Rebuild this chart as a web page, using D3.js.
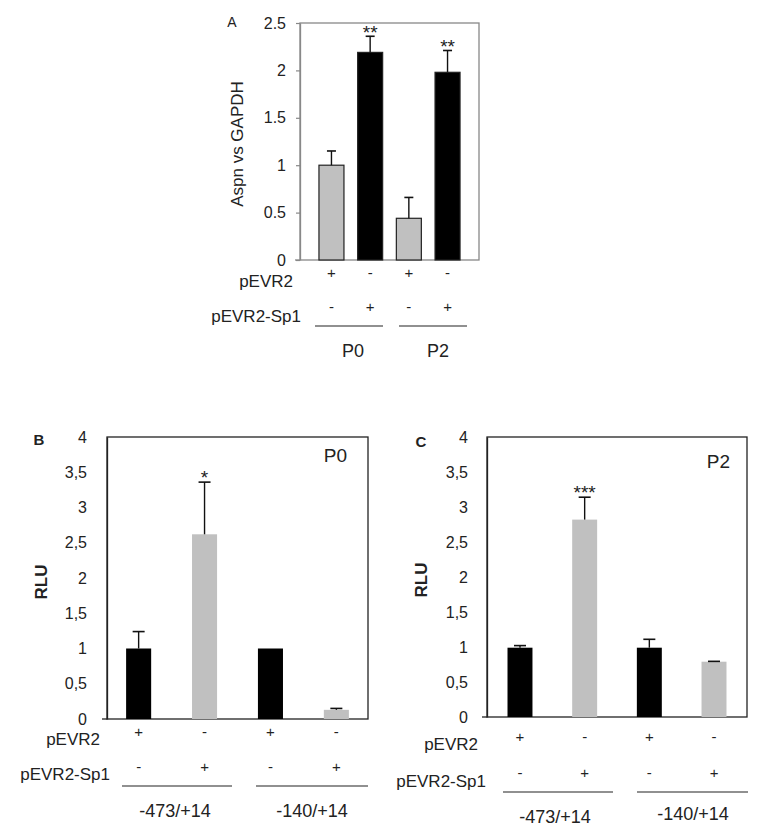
<!DOCTYPE html>
<html><head><meta charset="utf-8">
<script src="https://cdn.jsdelivr.net/npm/d3@7"></script>
<style>
body{margin:0;background:#fff;}
text{font-family:"Liberation Sans",Arial,sans-serif;fill:#222;}
</style></head>
<body>
<svg id="c" width="764" height="839"></svg>
<script>
// Panel A
const aCats = ["P0 pEVR2","P0 pEVR2-Sp1","P2 pEVR2","P2 pEVR2-Sp1"];
const aValues = [1.0, 2.19, 0.44, 1.98];
const aErrors = [0.15, 0.17, 0.22, 0.23];
const aSig = ["", "**", "", "**"];
const aTicks = ["0","0.5","1","1.5","2","2.5"];
const aPEVR2 = ["+","-","+","-"];
const aSp1 = ["-","+","-","+"];
const aGroups = ["P0","P2"];
// Panel B (P0)
const bValues = [1.0, 2.62, 1.0, 0.13];
const bErrors = [0.24, 0.74, 0.0, 0.02];
const bSig = ["", "*", "", ""];
// Panel C (P2)
const cValues = [0.99, 2.82, 0.99, 0.79];
const cErrors = [0.03, 0.32, 0.12, 0.005];
const cSig = ["", "***", "", ""];
const rluTicks = ["0","0,5","1","1,5","2","2,5","3","3,5","4"];
const bcPEVR2 = ["+","-","+","-"];
const bcSp1 = ["-","+","-","+"];
const bcGroups = ["-473/+14","-140/+14"];

const svg = d3.select("#c");

function panel(o){
  const g = svg.append("g");
  const x = d3.scaleBand().domain(d3.range(o.values.length)).range([o.x0, o.x1]).paddingInner(o.padIn).paddingOuter(o.padOut);
  const y = d3.scaleLinear().domain([0, o.ymax]).range([o.y0, o.y1]);
  g.append("rect").attr("x", o.x0).attr("y", o.y1).attr("width", o.x1-o.x0).attr("height", o.y0-o.y1)
    .attr("fill","none").attr("stroke", o.frameColor).attr("stroke-width",1.3);
  const tv = o.ticks.map(t=>+t.replace(",", "."));
  const ax = d3.axisLeft(y).tickValues(tv).tickFormat((d,i)=>o.ticks[i]).tickSizeInner(o.tickLen).tickSizeOuter(0).tickPadding(o.tickPad-o.tickLen);
  const axg = g.append("g").attr("transform",`translate(${o.x0},0)`).call(ax);
  axg.select(".domain").attr("stroke", o.frameColor).attr("stroke-width",1.3);
  axg.selectAll(".tick line").attr("stroke", o.frameColor).attr("stroke-width",1.2);
  axg.selectAll("text").style("font-size", o.tickFont+"px").attr("fill","#222").style("font-family","Liberation Sans, Arial, sans-serif");
  g.append("line").attr("x1",o.x0-5).attr("x2",o.x0).attr("y1",y(0)).attr("y2",y(0)).attr("stroke",o.frameColor).attr("stroke-width",1.3);
  g.selectAll("rect.bar").data(o.values).enter().append("rect").attr("class","bar")
    .attr("x",(d,i)=>x(i)).attr("width",x.bandwidth())
    .attr("y",d=>y(d)).attr("height",d=>y(0)-y(d))
    .attr("fill",(d,i)=>o.colors[i]).attr("stroke",o.barStroke?"#222":"none").attr("stroke-width",1.2);
  o.values.forEach((v,i)=>{
    const e=o.errors[i]; if(e<=0) return;
    const cx=x(i)+x.bandwidth()/2;
    g.append("line").attr("x1",cx).attr("x2",cx).attr("y1",y(v)).attr("y2",y(v+e)).attr("stroke","#111").attr("stroke-width",1.4);
    g.append("line").attr("x1",cx-o.cap).attr("x2",cx+o.cap).attr("y1",y(v+e)).attr("y2",y(v+e)).attr("stroke","#111").attr("stroke-width",1.6);
    if(o.sig[i]) g.append("text").attr("x",cx).attr("y",y(v+e)+o.sigGap).attr("text-anchor","middle").style("font-size",o.sigFont+"px").text(o.sig[i]);
  });
  o.pevr2.forEach((s,i)=>{
    g.append("text").attr("x",x(i)+x.bandwidth()/2).attr("y",o.row1).attr("text-anchor","middle").style("font-size","15px").text(s);
  });
  o.sp1.forEach((s,i)=>{
    g.append("text").attr("x",x(i)+x.bandwidth()/2).attr("y",o.row2).attr("text-anchor","middle").style("font-size","15px").text(s);
  });
  g.append("text").attr("x",o.labelRight).attr("y",o.row1Label).attr("text-anchor","end").style("font-size",o.rowFont+"px").text("pEVR2");
  g.append("text").attr("x",o.labelRight2).attr("y",o.row2Label).attr("text-anchor","end").style("font-size",o.rowFont+"px").text("pEVR2-Sp1");
  o.groups.forEach((gname,k)=>{
    const l=o.lines[k];
    g.append("line").attr("x1",l[0]).attr("x2",l[1]).attr("y1",o.lineY).attr("y2",o.lineY).attr("stroke","#222").attr("stroke-width",1.2);
    g.append("text").attr("x",o.groupX[k]).attr("y",o.groupY[k]).attr("text-anchor","middle").style("font-size",o.groupFont+"px").text(gname);
  });
  g.append("text").attr("transform",`translate(${o.ylabX},${o.ylabY}) rotate(-90)`).attr("text-anchor","middle")
    .style("font-size",o.ylabFont+"px").style("font-weight",o.ylabBold?"bold":"normal").text(o.ylab);
  g.append("text").attr("x",o.letter[1]).attr("y",o.letter[2]).attr("text-anchor","middle")
    .style("font-size",o.letter[3]+"px").style("font-weight",o.letter[4]?"bold":"normal").text(o.letter[0]);
  if(o.corner) g.append("text").attr("x",o.corner[1]).attr("y",o.corner[2]).attr("text-anchor","end").style("font-size","19px").text(o.corner[0]);
}

panel({values:aValues, errors:aErrors, sig:aSig, ticks:aTicks, ymax:2.5,
  x0:300, x1:479, y0:260, y1:23, padIn:0.354, padOut:0.49, frameColor:"#888", tickPad:14, tickLen:4, tickFont:16,
  colors:["#c0c0c0","#000","#c0c0c0","#000"], barStroke:true, cap:4.5, sigGap:3, sigFont:19,
  pevr2:aPEVR2, sp1:aSp1, row1:278, row2:312, row1Label:287, row2Label:322, labelRight:293, labelRight2:301, rowFont:17,
  groups:aGroups, lines:[[315,383],[399,467]], lineY:326, groupX:[353,438], groupY:[357,357], groupFont:18,
  ylab:"Aspn vs GAPDH", ylabX:243, ylabY:144, ylabFont:17, ylabBold:false,
  letter:["A",232,27,14,false]});

panel({values:bValues, errors:bErrors, sig:bSig, ticks:rluTicks, ymax:4,
  x0:107, x1:368, y0:719, y1:437, padIn:0.62, padOut:0.29, frameColor:"#222", tickPad:20, tickLen:0, tickFont:16,
  colors:["#000","#c0c0c0","#000","#c0c0c0"], barStroke:false, cap:6, sigGap:2, sigFont:19,
  pevr2:bcPEVR2, sp1:bcSp1, row1:737, row2:772, row1Label:745, row2Label:780, labelRight:100, labelRight2:110, rowFont:17,
  groups:bcGroups, lines:[[122,232],[256,368]], lineY:786, groupX:[175,312], groupY:[817,817], groupFont:18,
  ylab:"RLU", ylabX:47, ylabY:582, ylabFont:17, ylabBold:true,
  letter:["B",39,445,15,true], corner:["P0",347,462]});

panel({values:cValues, errors:cErrors, sig:cSig, ticks:rluTicks, ymax:4,
  x0:487, x1:747, y0:717, y1:437, padIn:0.614, padOut:0.317, frameColor:"#222", tickPad:19, tickLen:0, tickFont:16,
  colors:["#000","#c0c0c0","#000","#c0c0c0"], barStroke:false, cap:6, sigGap:2, sigFont:19,
  pevr2:bcPEVR2, sp1:bcSp1, row1:742, row2:778, row1Label:750, row2Label:787, labelRight:478, labelRight2:486, rowFont:17,
  groups:bcGroups, lines:[[503,613],[637,748]], lineY:792, groupX:[555,693], groupY:[823,820], groupFont:18,
  ylab:"RLU", ylabX:427, ylabY:580, ylabFont:17, ylabBold:true,
  letter:["C",421,447,15,true], corner:["P2",730,468]});
</script>
</body></html>
